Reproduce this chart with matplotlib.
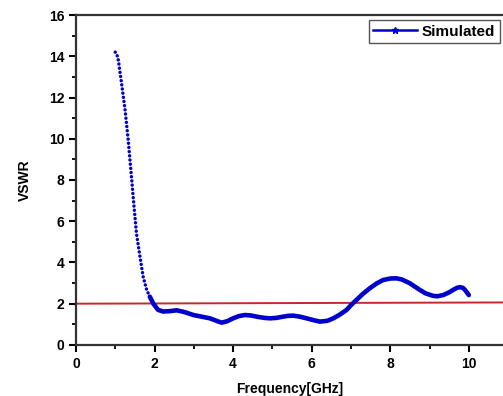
import matplotlib
matplotlib.use("Agg")
import matplotlib.pyplot as plt
from matplotlib.ticker import MultipleLocator

plt.rcParams['font.family'] = ['Liberation Sans', 'DejaVu Sans']
plt.rcParams['font.weight'] = 'bold'

# VSWR
freq = [1.0, 1.04, 1.08, 1.16, 1.25, 1.33, 1.42, 1.46, 1.54, 1.63, 1.71, 1.80, 1.88,
        1.97, 2.09, 2.22, 2.4, 2.56, 2.75, 2.99, 3.2, 3.41, 3.6, 3.71, 3.85, 4.0, 4.15,
        4.30, 4.45, 4.6, 4.8, 4.94, 5.1, 5.27, 5.4, 5.53, 5.7, 5.87, 6.05, 6.21, 6.4,
        6.55, 6.7, 6.89, 7.0, 7.14, 7.3, 7.48, 7.65, 7.82, 8.0, 8.16, 8.3, 8.5, 8.6,
        8.75, 8.9, 9.09, 9.2, 9.35, 9.5, 9.6, 9.7, 9.77, 9.85, 9.9, 9.95, 10.0]
vswr = [14.2, 14.1, 13.8, 12.7, 11.4, 9.94, 8.0, 7.1, 5.41, 4.28, 3.31, 2.67, 2.34,
        2.0, 1.70, 1.62, 1.64, 1.68, 1.6, 1.45, 1.37, 1.29, 1.15, 1.08, 1.15, 1.29, 1.40,
        1.45, 1.43, 1.37, 1.31, 1.29, 1.31, 1.37, 1.41, 1.42, 1.37, 1.29, 1.2, 1.13, 1.17,
        1.29, 1.45, 1.70, 1.93, 2.18, 2.47, 2.75, 2.98, 3.15, 3.22, 3.23, 3.17, 2.99, 2.86,
        2.67, 2.5, 2.38, 2.36, 2.42, 2.55, 2.67, 2.77, 2.80, 2.77, 2.67, 2.55, 2.42]

ref_x = [0, 10.87]
ref_y = [2.0, 2.06]

blue = '#0000cc'
fig = plt.figure(figsize=(5.03, 3.96), dpi=100)
ax = fig.add_axes([0.151, 0.129, 0.849, 0.833])

ax.plot(ref_x, ref_y, color='#c8282a', lw=1.4, zorder=2)
# steep part looks like separate sample dots, the rest runs together
k = 12
ax.plot(freq[:k + 1], vswr[:k + 1], color=blue, lw=2.5, linestyle=(0, (0.01, 1.2)),
        dash_capstyle='round', zorder=3)
ax.plot(freq[k:], vswr[k:], color=blue, lw=3.3, solid_capstyle='round',
        solid_joinstyle='round', zorder=3)
ax.plot([], [], color=blue, lw=1.8, marker='*', ms=5, label='Simulated')

ax.set_xlim(0, 10.87)
ax.set_ylim(0, 16)
ax.xaxis.set_major_locator(MultipleLocator(2))
ax.xaxis.set_minor_locator(MultipleLocator(1))
ax.yaxis.set_major_locator(MultipleLocator(2))
ax.yaxis.set_minor_locator(MultipleLocator(1))
ax.tick_params(which='major', direction='out', length=5, width=1.5, labelsize=10)
ax.tick_params(which='minor', direction='out', length=3, width=1.3)
ax.spines['right'].set_visible(False)
for s in ['left', 'bottom', 'top']:
    ax.spines[s].set_linewidth(1.6)
    ax.spines[s].set_color('#333333')

ax.set_xlabel('Frequency[GHz]', fontsize=10, fontweight='bold', labelpad=8)
ax.set_ylabel('VSWR', fontsize=10, fontweight='bold', labelpad=12)

leg = ax.legend(loc='upper right', bbox_to_anchor=(0.993, 0.985), fontsize=11,
                handlelength=2.9, handletextpad=0.3, fancybox=False,
                borderpad=0.3, borderaxespad=0, framealpha=1)
leg.get_frame().set_edgecolor('#555555')
leg.get_frame().set_linewidth(1.0)

fig.savefig('out.png', dpi=100)
